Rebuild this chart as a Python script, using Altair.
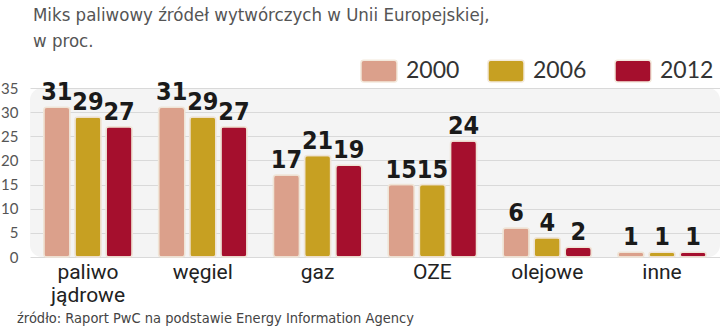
import altair as alt
import pandas as pd

categories = ["paliwo jądrowe", "węgiel", "gaz", "OZE", "olejowe", "inne"]
years = ["2000", "2006", "2012"]
v2000 = [31, 31, 17, 15, 6, 1]
v2006 = [29, 29, 21, 15, 4, 1]
v2012 = [27, 27, 19, 24, 2, 1]
colors = ["#dba08b", "#c7a022", "#a50f2d"]
y_ticks = [0, 5, 10, 15, 20, 25, 30, 35]
title_line1 = "Miks paliwowy źródeł wytwórczych w Unii Europejskiej,"
title_line2 = "w proc."
source = "źródło: Raport PwC na podstawie Energy Information Agency"

rows = []
for yr, vals in zip(years, [v2000, v2006, v2012]):
    for c, v in zip(categories, vals):
        rows.append({"kategoria": c, "rok": yr, "wartosc": v})
df = pd.DataFrame(rows)

legend_symbol = ("M-1,-0.45 Q-1,-0.6 -0.85,-0.6 L0.85,-0.6 Q1,-0.6 1,-0.45 "
                 "L1,0.45 Q1,0.6 0.85,0.6 L-0.85,0.6 Q-1,0.6 -1,0.45 Z")

COND = "DejaVu Sans Condensed"

x = alt.X("kategoria:N", sort=categories,
          scale=alt.Scale(paddingInner=0.23, paddingOuter=0.12),
          axis=alt.Axis(title=None, domain=False, ticks=False, labelAngle=0,
                        labelFont="Roboto", labelFontSize=21, labelColor="#222222",
                        labelPadding=4, labelLineHeight=23,
                        labelExpr="split(datum.label, ' ')"))
xo = alt.XOffset("rok:N", sort=years, scale=alt.Scale(paddingInner=0.16))
y = alt.Y("wartosc:Q", scale=alt.Scale(domain=[0, 35], nice=False),
          axis=alt.Axis(title=None, values=y_ticks, domain=False, ticks=False,
                        labelOverlap=False, labelFont="Lato", labelFontSize=15,
                        labelColor="#555555", labelPadding=12,
                        gridColor="#d9d9d9", gridWidth=1.2))
color = alt.Color("rok:N", sort=years, scale=alt.Scale(domain=years, range=colors),
                  legend=alt.Legend(title=None, orient="none", direction="horizontal",
                                    legendX=330, legendY=-36,
                                    symbolType=legend_symbol, symbolSize=1300,
                                    symbolStrokeColor="#f3e9dc", symbolStrokeWidth=1.5,
                                    symbolOpacity=1,
                                    labelFont="Lato", labelFontSize=23,
                                    labelColor="#333333", labelOffset=8,
                                    columnPadding=24))

bars = alt.Chart(df).mark_bar(cornerRadius=3, stroke="#efe4d6", strokeWidth=1.5).encode(
    x=x, xOffset=xo, y=y, color=color
)

labels = alt.Chart(df).mark_text(
    font=COND, fontWeight="bold", fontSize=25,
    color="#1a1a1a", baseline="bottom", dy=-2
).encode(
    x=x, xOffset=xo, y=y, text="wartosc:Q",
)

t1 = alt.Chart(pd.DataFrame({"t": [title_line1]})).mark_text(
    font=COND, fontSize=18.5, color="#555555", align="left", baseline="alphabetic"
).encode(x=alt.value(3), y=alt.value(-67), text="t:N")

t2 = alt.Chart(pd.DataFrame({"t": [title_line2]})).mark_text(
    font=COND, fontSize=18.5, color="#555555", align="left", baseline="alphabetic"
).encode(x=alt.value(3), y=alt.value(-41), text="t:N")

src_layer = alt.Chart(pd.DataFrame({"t": [source]})).mark_text(
    font=COND, fontSize=14.5, color="#444444", align="left", baseline="alphabetic"
).encode(x=alt.value(-13), y=alt.value(235), text="t:N")

final = alt.layer(bars, labels, t1, t2, src_layer).properties(
    width=690, height=169,
    padding={"left": 30, "top": 88, "right": 0, "bottom": 73},
    autosize=alt.AutoSizeParams(type="none"),
).configure_view(
    fill="#f4f4f4", stroke=None, cornerRadius=12
)

final.save("out.html", embed_options={"renderer": "svg", "actions": False})
